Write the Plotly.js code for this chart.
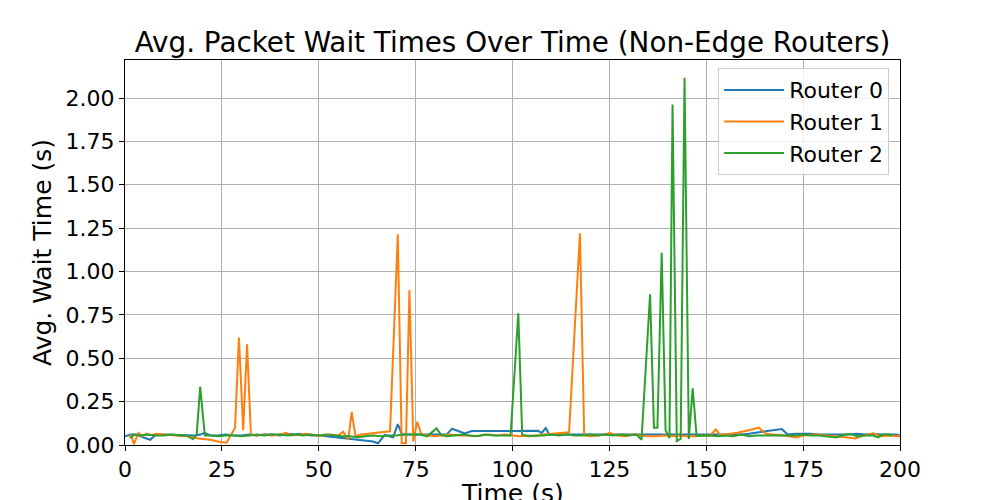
<!DOCTYPE html>
<html>
<head>
<meta charset="utf-8">
<script src="https://cdn.plot.ly/plotly-3.0.1.min.js"></script>
<style>html,body{margin:0;padding:0;background:#fff;}#chart{width:1000px;height:500px;}</style>
</head>
<body>
<div id="chart"></div>
<script>
// Router 0 (blue)
const r0x = [0,1.5,3,4.5,6.5,8,10,12,14,16,18,19.5,20.5,22,24,26,28,30,32,34,36,38,40,42,44,45,46,48,50,52,54,56,57.6,60,62,64,65.3,67,69.2,70.4,71.5,73,75,77,79,81,83,84.4,86,87.7,89.5,93,97,101,104,106.6,107.5,108.6,109.5,111,113,115,117,119,121,123,125,127,129,131,133,135,137,139,141,143,145,147,149,151,153,155,157,159,161,163,165,167,169.5,171,173,175,177,179,181,183,185,187,189,191,193,195,197,199,200];
const r0y = [0.05,0.06,0.06,0.045,0.03,0.06,0.06,0.058,0.055,0.055,0.055,0.06,0.07,0.055,0.055,0.06,0.055,0.055,0.06,0.055,0.06,0.06,0.055,0.065,0.06,0.065,0.06,0.055,0.055,0.05,0.045,0.04,0.035,0.03,0.025,0.02,0.01,0.058,0.045,0.12,0.06,0.06,0.06,0.06,0.06,0.06,0.06,0.094,0.08,0.067,0.08,0.08,0.081,0.082,0.082,0.082,0.07,0.098,0.06,0.06,0.06,0.06,0.058,0.06,0.06,0.06,0.06,0.058,0.06,0.06,0.06,0.06,0.06,0.06,0.06,0.058,0.06,0.06,0.06,0.06,0.06,0.06,0.06,0.06,0.065,0.072,0.08,0.085,0.092,0.06,0.065,0.065,0.065,0.06,0.06,0.06,0.06,0.06,0.065,0.06,0.065,0.06,0.06,0.06,0.055];

// Router 1 (orange)
const r1x = [1,1.6,2.3,3.5,4.5,5.5,6.5,8,10,12,14,16,18,20,22,24,26.2,28.4,29.4,30.5,31.5,32.5,34,36,38,40,41.5,43,45,47,49,51,53,55,56.3,57.6,58.5,59.5,61,63,65,68.4,70.4,71.4,72.5,73.4,74.4,75.4,76.5,78,80,82,84,86,88,90,92,94,96,98,100,102,104,106,108,110,112,114.6,117.4,118.5,120,122,124,125,127,129,131,133,135,137,139,141,143,145,147,149,151,152.5,153.5,155,158,161,163.6,165.2,167,170,173.3,175,178,181,184,186,188.4,190,193.1,195,197,200];
const r1y = [0.05,0.055,0.005,0.07,0.05,0.065,0.055,0.065,0.06,0.058,0.055,0.05,0.04,0.035,0.03,0.02,0.013,0.1,0.62,0.086,0.58,0.06,0.055,0.06,0.055,0.06,0.07,0.055,0.06,0.065,0.055,0.055,0.06,0.055,0.077,0.03,0.19,0.05,0.06,0.065,0.07,0.079,1.214,0.01,0.01,0.893,0.02,0.134,0.06,0.055,0.05,0.055,0.06,0.055,0.055,0.05,0.055,0.06,0.055,0.06,0.055,0.05,0.055,0.05,0.06,0.065,0.068,0.073,1.22,0.055,0.05,0.055,0.06,0.07,0.055,0.05,0.06,0.055,0.05,0.05,0.055,0.05,0.055,0.05,0.05,0.055,0.055,0.09,0.06,0.06,0.07,0.085,0.1,0.067,0.06,0.055,0.044,0.055,0.06,0.055,0.05,0.045,0.038,0.05,0.067,0.05,0.055,0.05];

// Router 2 (green)
const r2x = [1.3,2.5,4,6,8,10,12,14,16,17.5,18.5,19.4,20.6,22,24,26,28,30,32,34,36,38,40,42,44,46,48,50,52,54,56,58,60,62,64,66,68,70,72,74,76,78,80.4,81.5,83,85,87,89,91,93,95,97,99.5,101.5,102.5,104,106,108,110,112,114,116,118,120,122,124,126,128,130,132,133.3,135.5,136.5,137.4,138.5,139.5,140.5,141.3,142.4,143.4,144.4,145.5,146.5,147.5,149,151,153,155,157,159,161,163,165,167,169,171,173,175,177,179,181,183.6,185,187,189,191,193,194.4,195.5,197,198];
const r2y = [0.04,0.06,0.055,0.06,0.055,0.055,0.06,0.055,0.055,0.033,0.06,0.336,0.055,0.055,0.05,0.055,0.055,0.05,0.055,0.06,0.055,0.06,0.06,0.055,0.06,0.055,0.06,0.055,0.06,0.055,0.05,0.05,0.045,0.05,0.055,0.05,0.055,0.055,0.06,0.06,0.06,0.05,0.096,0.06,0.05,0.055,0.06,0.055,0.05,0.06,0.055,0.055,0.055,0.759,0.06,0.05,0.055,0.055,0.06,0.055,0.06,0.055,0.055,0.06,0.055,0.06,0.055,0.06,0.055,0.06,0.03,0.868,0.1,0.1,1.108,0.086,0.04,1.963,0.023,0.035,2.117,0.035,0.327,0.054,0.055,0.055,0.05,0.055,0.05,0.06,0.05,0.055,0.055,0.055,0.055,0.055,0.055,0.06,0.055,0.055,0.05,0.044,0.055,0.065,0.05,0.055,0.055,0.044,0.06,0.06,0.055];

const xTicks = [0,25,50,75,100,125,150,175,200];
const yTicks = [0,0.25,0.5,0.75,1.0,1.25,1.5,1.75,2.0];
const names = ['Router 0','Router 1','Router 2'];
const colors = ['#1f77b4','#ff7f0e','#2ca02c'];

const series = [[r0x,r0y],[r1x,r1y],[r2x,r2y]];
const data = series.map((s,i)=>({
  x:s[0], y:s[1], type:'scatter', mode:'lines', name:names[i],
  line:{color:colors[i], width:2}
}));

const font = {family:'DejaVu Sans, sans-serif', color:'#000'};
const layout = {
  width:1000, height:500,
  margin:{l:125, r:100, t:60, b:55},
  paper_bgcolor:'#fff', plot_bgcolor:'#fff',
  font:Object.assign({size:22}, font),
  title:{text:'Avg. Packet Wait Times Over Time (Non-Edge Routers)', font:Object.assign({size:27.8},font), x:0.5, xanchor:'center', y:0.916, yanchor:'middle', xref:'paper'},
  xaxis:{range:[0,200], tickvals:xTicks, ticktext:xTicks.map(String), showgrid:true, gridcolor:'#b0b0b0', gridwidth:1,
    zeroline:false, showline:true, linecolor:'#000', linewidth:1, mirror:true, ticks:'outside', ticklen:5, tickcolor:'#000',
    tickfont:Object.assign({size:22},font), automargin:false},
  yaxis:{range:[0,2.219], tickvals:yTicks, ticktext:yTicks.map(v=>v.toFixed(2)), showgrid:true, gridcolor:'#b0b0b0', gridwidth:1,
    zeroline:false, showline:true, linecolor:'#000', linewidth:1, mirror:true, ticks:'outside', ticklen:5, tickcolor:'#000',
    tickfont:Object.assign({size:22},font), automargin:false, title:{text:'Avg. Wait Time (s)', font:Object.assign({size:25},font), standoff:6}},
  annotations:[{text:'Time (s)', xref:'paper', yref:'paper', x:0.5, xanchor:'center', y:-0.125, yanchor:'middle', showarrow:false,
    font:Object.assign({size:25},font)}],
  legend:{x:0.986, xanchor:'right', y:0.979, yanchor:'top', bgcolor:'rgba(255,255,255,0.8)', bordercolor:'#cccccc', borderwidth:1,
    font:Object.assign({size:22},font), tracegroupgap:0, itemwidth:60},
  showlegend:true
};
Plotly.newPlot('chart', data, layout, {displayModeBar:false, staticPlot:true});
</script>
</body>
</html>
